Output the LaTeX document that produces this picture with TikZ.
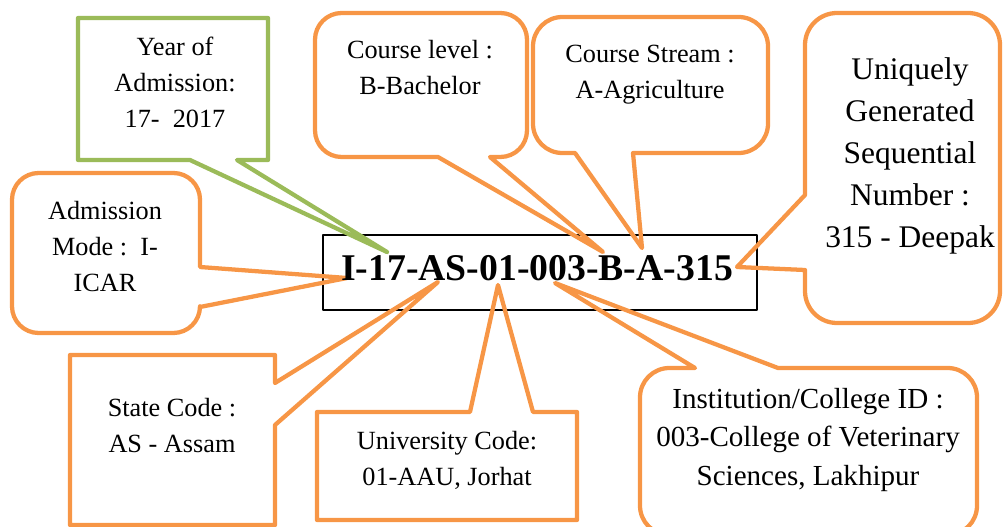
\documentclass[tikz,border=0pt]{standalone}
\usepackage{fontspec}
\setmainfont{Liberation Serif}
\usetikzlibrary{positioning}
\definecolor{calloutorange}{RGB}{247,150,70}
\definecolor{calloutgreen}{RGB}{155,187,89}

\begin{document}
\begin{tikzpicture}[x=0.75pt, y=-0.75pt, line join=round]
\tikzstyle{orange box}=[draw=calloutorange, line width=3.2pt]
\tikzstyle{green box}=[draw=calloutgreen, line width=3.2pt]
\tikzstyle{label}=[align=center, inner sep=0pt, font=\fontsize{19.7}{27}\selectfont]
\useasboundingbox (0,0) rectangle (1003,527);

\node[draw, line width=1.3pt, minimum width=325.5pt, minimum height=56.25pt] (codebox) at (540,272.5) {};

\coordinate (tipyear)   at (387,252);
\coordinate (tipmode)   at (347,278);
\coordinate (tiplevel)  at (603,252);
\coordinate (tipstream) at (642,248);
\coordinate (tipseq)    at (737,267);
\coordinate (tipstate)  at (438,282);
\coordinate (tipuniv)   at (498,285);
\coordinate (tipinst)   at (555,283);

\draw[green box] (78,90) -- (78,18) -- (268,18) -- (268,160) -- (237,160) -- (tipyear) -- (190,160) -- (78,160) -- cycle;
\draw[orange box, rounded corners=20pt] (12,250) -- (12,173) -- (200,173) [sharp corners] -- (200,267) -- (tipmode) -- (200,307) [rounded corners=20pt] -- (200,333) -- (12,333) -- cycle;
\draw[orange box, rounded corners=20pt] (315,80) -- (315,13) -- (527,13) -- (527,157) [sharp corners] -- (490,157) -- (tiplevel) -- (438,157) [rounded corners=20pt] -- (315,157) -- cycle;
\draw[orange box, rounded corners=22pt] (533,80) -- (533,17) -- (768,17) -- (768,153) [sharp corners] -- (633,153) -- (tipstream) -- (575,153) [rounded corners=22pt] -- (533,153) -- cycle;
\draw[orange box, rounded corners=24pt] (900,13) -- (1000,13) -- (1000,323) -- (805,323) [sharp corners] -- (805,270) -- (tipseq) -- (805,195) [rounded corners=24pt] -- (805,13) -- cycle;
\draw[orange box] (70,355) -- (275,355) -- (275,383) -- (tipstate) -- (275,425) -- (275,525) -- (70,525) -- cycle;
\draw[orange box] (317,412) -- (470,412) -- (tipuniv) -- (533,412) -- (577,412) -- (577,520) -- (317,520) -- cycle;
\draw[orange box, rounded corners=22pt] (640,450) -- (640,368) [sharp corners] -- (695,368) -- (tipinst) -- (778,368) [rounded corners=22pt] -- (977,368) -- (977,535) -- (640,535) -- cycle;

\node[label] (year)   at (175,82)  {Year of\\Admission:\\17-~~2017};
\node[label] (mode)   at (105,247) {Admission\\Mode :~~I-\\ICAR};
\node[label] (level)  at (420,68)  {Course level :\\B-Bachelor};
\node[label] (stream) at (650,75)  {Course Stream :\\A-Agriculture};
\node[label, font=\fontsize{23.6}{31.5}\selectfont] (seq) at (910,156) {Uniquely\\Generated\\Sequential\\Number :\\315 - Deepak};
\node[label] (state)  at (172,426) {State Code :\\AS - Assam};
\node[label] (univ)   at (447,460) {University Code:\\01-AAU, Jorhat};
\node[label, font=\fontsize{21.8}{28.9}\selectfont] (inst) at (808,440) {Institution/College ID :\\003-College of Veterinary\\Sciences, Lakhipur};
\node[font=\fontsize{28.3}{34}\selectfont\bfseries, inner sep=0pt] (code) at (537,268) {I-17-AS-01-003-B-A-315};
\end{tikzpicture}
\end{document}
